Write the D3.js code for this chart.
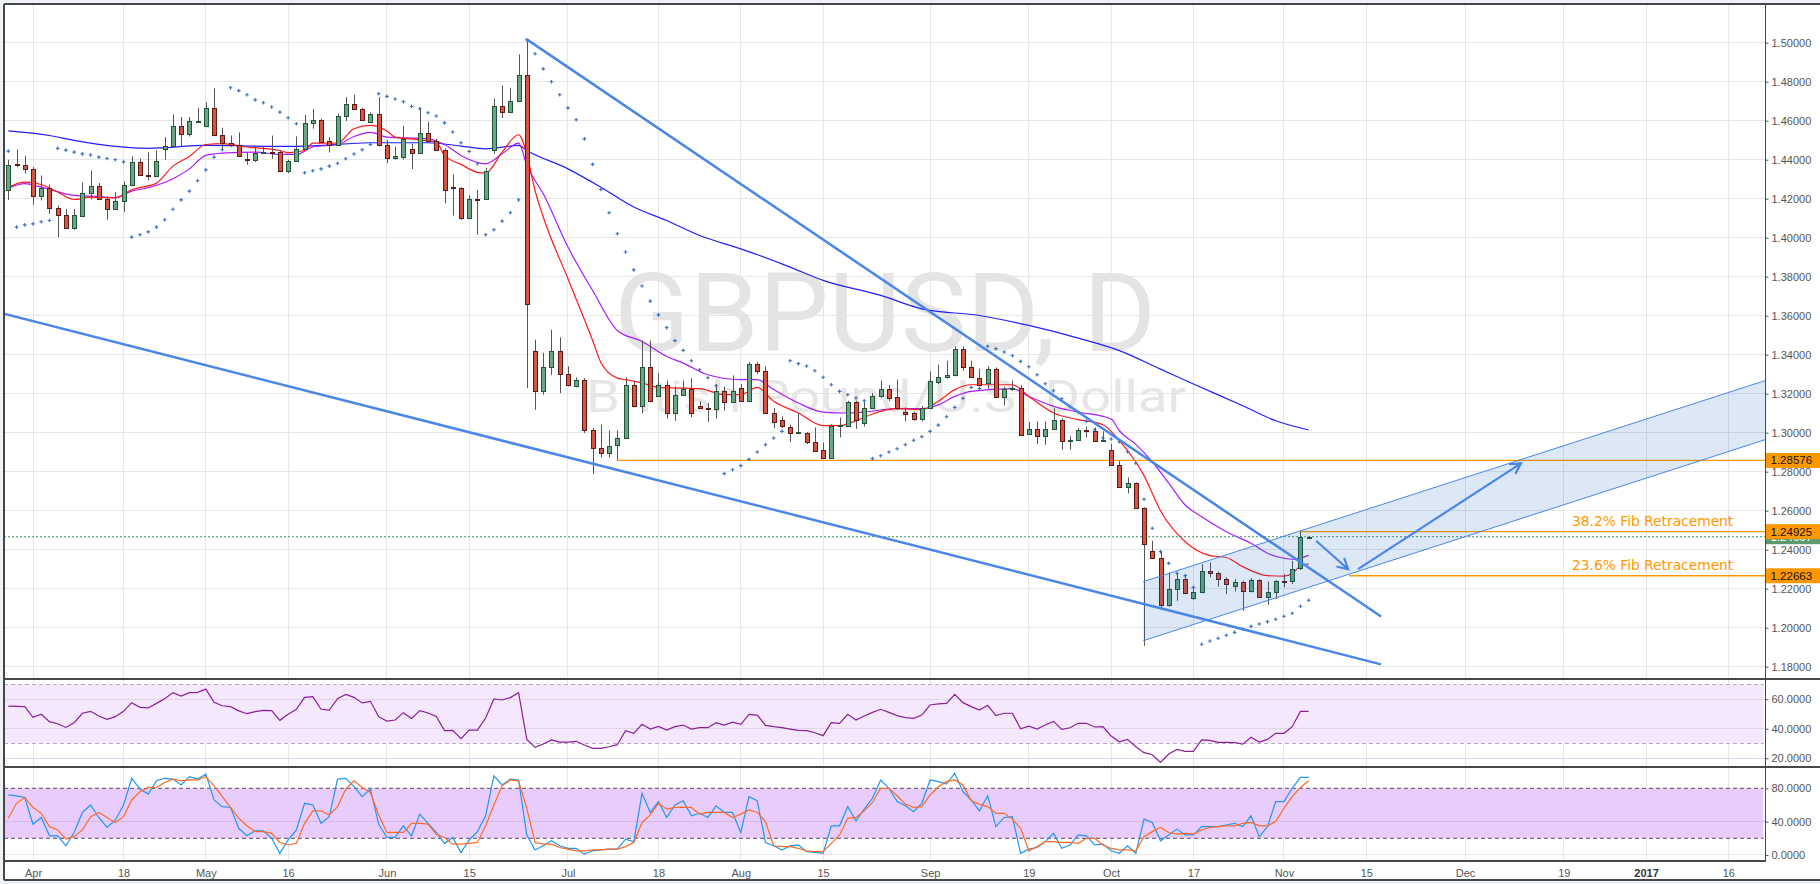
<!DOCTYPE html>
<html><head><meta charset="utf-8">
<script src="https://cdn.jsdelivr.net/npm/d3@7"></script>
<style>html,body{margin:0;padding:0;background:#eef1f6;}svg{display:block;}</style>
</head><body>
<svg id="c" width="1820" height="884"></svg>
<script>
// ---------- DATA (GBPUSD daily, bar n=1 is 29 Mar 2016, weekdays) ----------
const opens = [1.4246,1.4376,1.4374,1.4353,1.4215,1.4256,1.4153,1.4117,1.4051,1.4112,
1.4230,1.4266,1.4200,1.4148,1.4189,1.4271,1.4389,1.4324,1.4318,1.4456,
1.4470,1.4574,1.4533,1.4595,1.4574,1.4666,1.4528,1.4487,1.4477,1.4405,
1.4400,1.4436,1.4442,1.4439,1.4343,1.4394,1.4456,1.4589,1.4605,1.4497,
1.4477,1.4625,1.4687,1.4661,1.4595,1.4636,1.4477,1.4410,1.4415,1.4456,
1.4434,1.4538,1.4497,1.4451,1.4261,1.4256,1.4100,1.4200,1.4198,1.4449,
1.4675,1.4646,1.4702,1.4836,1.3417,1.3215,1.3335,1.3421,1.3302,1.3237,
1.3272,1.3015,1.2921,1.2896,1.2937,1.2973,1.3243,1.3135,1.3335,1.3190,
1.3246,1.3101,1.3195,1.3226,1.3138,1.3128,1.3123,1.3215,1.3155,1.3229,
1.3164,1.3350,1.3318,1.3101,1.3067,1.3029,1.2996,1.3000,1.2950,1.2913,
1.2870,1.3036,1.3036,1.3155,1.3049,1.3126,1.3190,1.3226,1.3181,1.3104,
1.3101,1.3072,1.3126,1.3260,1.3284,1.3294,1.3431,1.3335,1.3280,1.3255,
1.3328,1.3181,1.3226,1.3229,1.2995,1.3020,1.2981,1.3020,1.3067,1.2955,
1.2964,1.3015,1.3010,1.2961,1.2911,1.2834,1.2719,1.2740,1.2613,1.2395,
1.2357,1.2117,1.2198,1.2249,1.2152,1.2181,1.2292,1.2278,1.2249,1.2212,
1.2232,1.2186,1.2244,1.2155,1.2181,1.2240,1.2237,1.2305,1.2466];
const highs = [1.4400,1.4453,1.4420,1.4362,1.4319,1.4273,1.4165,1.4148,1.4148,1.4283,
1.4345,1.4280,1.4208,1.4234,1.4288,1.4417,1.4405,1.4437,1.4447,1.4516,
1.4632,1.4619,1.4619,1.4666,1.4694,1.4766,1.4564,1.4524,1.4540,1.4439,
1.4465,1.4470,1.4524,1.4447,1.4400,1.4519,1.4630,1.4660,1.4610,1.4516,
1.4636,1.4721,1.4733,1.4666,1.4642,1.4721,1.4502,1.4468,1.4574,1.4482,
1.4666,1.4595,1.4507,1.4458,1.4324,1.4259,1.4217,1.4246,1.4357,1.4714,
1.4781,1.4769,1.4940,1.5017,1.3477,1.3409,1.3528,1.3489,1.3340,1.3284,
1.3280,1.3024,1.3041,1.3012,1.3012,1.3285,1.3263,1.3472,1.3472,1.3306,
1.3267,1.3237,1.3267,1.3280,1.3161,1.3152,1.3250,1.3237,1.3294,1.3250,
1.3362,1.3362,1.3340,1.3126,1.3084,1.3041,1.3101,1.3003,1.3027,1.2950,
1.3044,1.3078,1.3164,1.3164,1.3161,1.3203,1.3267,1.3246,1.3272,1.3130,
1.3106,1.3138,1.3314,1.3349,1.3369,1.3443,1.3443,1.3369,1.3328,1.3340,
1.3335,1.3237,1.3267,1.3243,1.3055,1.3058,1.3058,1.3126,1.3072,1.2981,
1.3024,1.3032,1.3027,1.3007,1.2942,1.2856,1.2771,1.2745,1.2617,1.2446,
1.2391,1.2283,1.2278,1.2266,1.2210,1.2326,1.2335,1.2288,1.2258,1.2249,
1.2241,1.2254,1.2249,1.2237,1.2244,1.2275,1.2343,1.24925,1.2470];
const lows = [1.4194,1.4362,1.4328,1.4169,1.4191,1.4123,1.4003,1.4045,1.4040,1.4106,
1.4196,1.4194,1.4092,1.4143,1.4131,1.4268,1.4319,1.4294,1.4314,1.4400,
1.4468,1.4470,1.4519,1.4593,1.4571,1.4526,1.4456,1.4465,1.4417,1.4374,
1.4389,1.4430,1.4405,1.4336,1.4331,1.4391,1.4451,1.4559,1.4487,1.4437,
1.4471,1.4598,1.4660,1.4603,1.4591,1.4468,1.4382,1.4400,1.4400,1.4352,
1.4430,1.4494,1.4444,1.4177,1.4114,1.4092,1.4095,1.4015,1.4194,1.4430,
1.4615,1.4639,1.4697,1.3229,1.3118,1.3195,1.3297,1.3203,1.3237,1.3232,
1.2998,1.2788,1.2873,1.2873,1.28576,1.2969,1.3130,1.3101,1.3157,1.3186,
1.3072,1.3061,1.3191,1.3079,1.3123,1.3055,1.3072,1.3113,1.3152,1.3161,
1.3161,1.3301,1.3096,1.3024,1.3024,1.2952,1.2993,1.2942,1.2904,1.2867,
1.2867,1.2976,1.3032,1.3020,1.3032,1.3123,1.3178,1.3161,1.3118,1.3058,
1.3061,1.3058,1.3123,1.3250,1.3277,1.3289,1.3318,1.3280,1.3237,1.3226,
1.3178,1.3140,1.3215,1.2986,1.2993,1.2942,1.2938,1.3015,1.2913,1.2913,
1.2959,1.2976,1.2955,1.2955,1.2831,1.2716,1.2689,1.2608,1.1907,1.2352,
1.2095,1.2107,1.2138,1.2172,1.2143,1.2177,1.2258,1.2210,1.2172,1.2186,
1.2087,1.2181,1.2152,1.2117,1.2147,1.2207,1.2224,1.2295,1.2463];
const closes = [1.4374,1.4372,1.4353,1.4215,1.4256,1.4153,1.4117,1.4051,1.4117,1.4230,
1.4266,1.4200,1.4148,1.4189,1.4271,1.4389,1.4323,1.4318,1.4394,1.4471,
1.4574,1.4533,1.4596,1.4601,1.4666,1.4528,1.4487,1.4477,1.4420,1.4400,
1.4436,1.4442,1.4439,1.4343,1.4394,1.4456,1.4589,1.4605,1.4490,1.4477,
1.4625,1.4687,1.4661,1.4605,1.4636,1.4477,1.4410,1.4417,1.4507,1.4434,
1.4538,1.4497,1.4451,1.4246,1.4254,1.4100,1.4200,1.4198,1.4343,1.4675,
1.4646,1.4702,1.4836,1.3658,1.3215,1.3335,1.3421,1.3302,1.3243,1.3272,
1.3015,1.2921,1.2896,1.2933,1.2973,1.3243,1.3135,1.3335,1.3164,1.3246,
1.3101,1.3195,1.3226,1.3101,1.3126,1.3123,1.3215,1.3155,1.3215,1.3164,
1.3350,1.3318,1.3101,1.3056,1.3032,1.2996,1.3003,1.2950,1.2908,1.2870,
1.3036,1.3040,1.3155,1.3067,1.3126,1.3190,1.3226,1.3178,1.3126,1.3097,
1.3070,1.3126,1.3263,1.3284,1.3294,1.3431,1.3335,1.3284,1.3246,1.3328,
1.3181,1.3226,1.3229,1.2990,1.3020,1.2981,1.3020,1.3067,1.2955,1.2964,
1.3015,1.3010,1.2959,1.2964,1.2834,1.2719,1.2740,1.2613,1.2429,1.2357,
1.2117,1.2198,1.2249,1.2176,1.2181,1.2292,1.2278,1.2249,1.2224,1.2236,
1.2186,1.2244,1.2155,1.2184,1.2241,1.2237,1.2300,1.2467,1.2467];
const sar = [1.4444,1.4054,1.4066,1.4071,1.4082,1.4088,1.4458,1.4449,1.4439,1.4430,
1.4424,1.4413,1.4406,1.4400,1.4389,1.4003,1.4015,1.4030,1.4054,1.4092,
1.4146,1.4194,1.4239,1.4292,1.4348,1.4413,1.4451,1.4769,1.4754,1.4733,
1.4707,1.4692,1.4670,1.4644,1.4615,1.4584,1.4333,1.4343,1.4353,1.4367,
1.4382,1.4405,1.4429,1.4451,1.4478,1.4738,1.4725,1.4711,1.4697,1.4673,
1.4661,1.4641,1.4624,1.4589,1.4542,1.4487,1.4442,1.4379,1.4015,1.4041,
1.4085,1.4128,1.4194,1.5015,1.4943,1.4866,1.4800,1.4733,1.4666,1.4605,
1.4507,1.4376,1.4247,1.4128,1.4020,1.3927,1.3835,1.3752,1.3675,1.3604,
1.3539,1.3472,1.3422,1.3369,1.3323,1.3282,1.3241,1.2790,1.2810,1.2831,
1.2863,1.2901,1.2938,1.2973,1.3007,1.3369,1.3354,1.3342,1.3318,1.3284,
1.3246,1.3212,1.3195,1.3178,1.3164,1.2867,1.2882,1.2901,1.2918,1.2938,
1.2961,1.2979,1.3007,1.3039,1.3082,1.3130,1.3176,1.3232,1.3226,1.3443,
1.3431,1.3414,1.3395,1.3366,1.3338,1.3297,1.3251,1.3215,1.3174,1.3133,
1.3104,1.3058,1.3015,1.2973,1.2968,1.2954,1.2903,1.2843,1.2659,1.2510,
1.2390,1.2330,1.2279,1.2267,1.2207,1.1915,1.1932,1.1946,1.1961,1.1976,
1.1992,1.2007,1.2019,1.2031,1.2043,1.2059,1.2074,1.2110,1.2141];
// moving averages: [bar, price]
const maFast = [[1,1.4259],[3,1.4285],[5,1.4273],[7,1.4234],[9,1.4196],[11,1.4208],[14,1.4205],[16,1.4246],[19,1.4280],[21,1.4367],[23,1.4417],[25,1.4478],[27,1.4482],[30,1.4465],[34,1.4447],[35,1.4436],[37,1.4447],[38,1.4485],[41,1.4485],[43,1.4559],[45,1.4576],[47,1.4547],[48,1.4516],[51,1.4502],[53,1.4490],[54,1.4422],[56,1.4376],[58,1.4335],[59,1.4331],[61,1.4439],[63,1.4528],[64,1.4430],[65,1.4242],[66,1.4106],[69,1.3789],[72,1.3473],[73,1.3360],[75,1.3280],[76,1.3272],[78,1.3255],[80,1.3232],[85,1.3226],[88,1.3195],[90,1.3195],[92,1.3232],[94,1.3161],[97,1.3101],[100,1.3036],[102,1.3036],[104,1.3061],[106,1.3096],[109,1.3123],[112,1.3118],[114,1.3161],[116,1.3221],[118,1.3246],[123,1.3246],[125,1.3186],[128,1.3101],[131,1.3067],[134,1.3041],[136,1.2959],[139,1.2780],[141,1.2600],[144,1.2441],[147,1.2370],[149,1.2360],[151,1.2313],[154,1.2267],[156,1.2265],[157,1.2278],[158,1.2316],[159,1.2327]];
const maMid = [[1,1.4254],[3,1.4277],[5,1.4259],[9,1.4217],[12,1.4211],[14,1.4205],[16,1.4239],[18,1.4256],[21,1.4302],[23,1.4353],[25,1.4422],[27,1.4434],[31,1.4439],[34,1.4427],[36,1.4427],[38,1.4465],[41,1.4478],[43,1.4519],[45,1.4540],[47,1.4516],[52,1.4507],[54,1.4478],[56,1.4422],[59,1.4379],[61,1.4430],[63,1.4485],[64,1.4371],[66,1.4225],[69,1.3952],[72,1.3729],[75,1.3524],[78,1.3468],[81,1.3391],[83,1.3357],[86,1.3297],[90,1.3272],[92,1.3272],[94,1.3221],[97,1.3152],[100,1.3106],[103,1.3101],[105,1.3106],[109,1.3123],[112,1.3123],[114,1.3143],[116,1.3186],[118,1.3212],[123,1.3226],[125,1.3186],[128,1.3135],[131,1.3106],[135,1.3070],[136,1.3010],[138,1.2940],[140,1.2851],[142,1.2741],[144,1.2629],[146,1.2569],[149,1.2492],[152,1.2433],[154,1.2382],[156,1.2356],[157,1.2351],[159,1.2371]];
const maSlow = [[1,1.4548],[6,1.4524],[9,1.4499],[14,1.4468],[18,1.4458],[25,1.4473],[34,1.4468],[38,1.4471],[45,1.4487],[52,1.4487],[56,1.4470],[59,1.4456],[63,1.4473],[64,1.4447],[69,1.4353],[73,1.4259],[77,1.4157],[81,1.4088],[85,1.4011],[90,1.3943],[96,1.3849],[100,1.3781],[107,1.3704],[112,1.3635],[119,1.3601],[125,1.3550],[131,1.3485],[136,1.3421],[141,1.3326],[145,1.3250],[151,1.3138],[155,1.3061],[159,1.3014]];
const rsi = [55.4,55.2,55.0,47.7,49.8,44.8,43.4,40.9,44.1,50.5,
51.8,48.6,46.4,48.2,51.8,57.7,54.5,54.1,57.2,60.4,
64.5,62.2,64.5,64.7,66.9,57.9,55.6,55.0,52.1,50.2,
51.6,52.5,52.3,45.7,49.8,53.2,61.3,61.8,53.2,52.7,
60.4,63.3,61.3,57.5,58.6,48.2,45.2,45.9,50.9,47.0,
52.3,50.7,48.4,38.7,38.9,33.3,39.1,39.1,47.3,60.2,
59.5,61.1,64.5,32.8,27.4,29.7,32.4,31.0,31.0,31.5,
29.0,26.7,26.7,27.8,29.2,38.7,36.9,43.0,39.8,41.6,
39.1,41.4,42.5,39.8,40.7,40.7,44.1,42.5,44.5,43.0,
49.8,49.3,42.3,41.4,40.7,39.8,38.9,38.7,37.3,35.3,
44.1,43.6,49.8,45.9,48.6,51.1,53.2,51.1,48.9,47.5,
47.0,49.3,56.1,56.8,57.2,63.3,57.7,55.0,52.7,55.9,
48.9,50.5,50.5,40.0,41.8,39.8,42.5,45.0,39.6,40.7,
43.7,43.7,41.2,41.4,35.1,31.2,32.8,27.8,23.8,22.4,
17.2,22.9,26.0,24.7,24.7,32.4,32.1,30.8,30.8,30.6,
29.6,34.2,31.0,32.8,36.9,36.9,41.4,51.8,51.8];
const stochK = [72,71,69,37,45,23,23,11,27,51, 60,45,33,42,60,92,79,73,89,92,
91,84,94,91,97,66,58,57,32,23, 29,29,20,2,18,30,62,60,38,46,
91,92,82,70,79,37,21,21,35,23, 49,38,27,14,21,3,18,28,47,95,
84,91,90,24,6,11,17,11,8,8, 1,5,6,7,7,19,16,74,51,64,
45,60,65,47,50,45,59,51,51,27, 70,65,15,11,6,11,12,4,3,2,
35,35,58,41,55,68,90,80,64,59, 52,62,90,88,85,98,76,66,53,71,
34,45,46,2,7,9,16,26,8,12, 24,23,12,13,5,2,11,2,43,39,
17,24,31,24,24,34,34,34,36,38, 34,47,22,34,64,64,80,93,93];
const stochD = [44,62,69,57,50,34,30,19,22,30, 46,51,45,39,46,66,76,81,81,87,
91,89,90,90,94,83,70,57,44,35, 28,28,26,15,12,14,38,53,53,48,
58,79,89,81,75,48,27,27,27,38, 38,37,25,21,13,13,14,15,35,60,
83,90,89,56,15,13,13,9,7,5, 5,6,6,7,7,10,15,39,48,62,
55,57,57,57,49,51,51,51,45,49, 54,51,40,11,10,10,8,5,4,4,
14,24,44,45,53,63,80,80,71,61, 57,58,72,82,88,90,84,65,61,58,
50,50,43,32,5,10,16,16,15,15, 14,20,20,12,8,6,6,5,22,28,
33,27,25,26,25,30,33,34,35,35, 38,39,35,35,40,56,70,81,89];
const tickBars = [4,15,25,35,47,57,69,80,90,100,113,125,135,145,156,166,178,190,200,210];
const tickLabels = ["Apr","18","May","16","Jun","15","Jul","18","Aug","15","Sep","19","Oct","17","Nov","15","Dec","19","2017","16"];
const priceTicks = [1.18,1.20,1.22,1.24,1.26,1.28,1.30,1.32,1.34,1.36,1.38,1.40,1.42,1.44,1.46,1.48,1.50];
const rsiTicks = [20,40,60];
const stochTicks = [0,40,80];
// drawings
const trendUpper = [[64,1.5017],[167.8,1.2057]];
const trendLower = [[0,1.3615],[167.8,1.1812]];
const channelBars = [138.9,214.6];
const channelTop = [1.2236,1.3269];
const channelBottom = [1.1933,1.2966];
const arrowDown = [[159.9,1.2446],[163.8,1.2300]];
const arrowUp = [[165.0,1.2300],[184.8,1.2843]];
const fibLevels = [1.28576,1.24925,1.22663];
const fibStartBars = [75,158,163.9];
const fibTexts = ["38.2% Fib Retracement","23.6% Fib Retracement"];
const fibTextLevels = [1.24925,1.22663];
const lastPrice = 1.24667;

// ---------- LAYOUT ----------
const W=1820,H=884,L=4,R=1765.5,mainTop=4,mainBot=679,rsiBot=767,stBot=861,axBot=880;
const x = d3.scaleLinear().domain([4,210]).range([33,1728.38]);
const y = d3.scaleLinear().domain([1.18,1.50]).range([666.7,42.7]);
const yR = d3.scaleLinear().domain([30,70]).range([743.5,684.5]);
const yS = d3.scaleLinear().domain([20,80]).range([838.3,788.3]);
const FONT = "'Liberation Sans', Arial, sans-serif";

const svg = d3.select('#c');
const defs = svg.append('defs');
function clip(id,x0,y0,w,h){defs.append('clipPath').attr('id',id).append('rect').attr('x',x0).attr('y',y0).attr('width',w).attr('height',h);}
clip('cm',L,mainTop,R-L,mainBot-mainTop);
clip('cr',L,mainBot,R-L,rsiBot-mainBot);
clip('cs',L,rsiBot,R-L,stBot-rsiBot);

svg.append('rect').attr('width',W).attr('height',H).attr('fill','#eef1f6');
svg.append('rect').attr('x',L).attr('y',mainTop).attr('width',W-L).attr('height',axBot-mainTop).attr('fill','#fff');

// grid
const grid = svg.append('g').attr('stroke','#e6e6e6').attr('stroke-width',1).attr('shape-rendering','crispEdges');
tickBars.forEach(n=>grid.append('line').attr('x1',x(n)).attr('x2',x(n)).attr('y1',mainTop).attr('y2',stBot));
priceTicks.forEach(p=>grid.append('line').attr('x1',L).attr('x2',R).attr('y1',y(p)).attr('y2',y(p)));

// bands
const rb = svg.append('g').attr('clip-path','url(#cr)');
rb.append('rect').attr('x',L).attr('width',R-L-2).attr('y',yR(70)).attr('height',yR(30)-yR(70)).attr('fill','#f5e8fd');
rsiTicks.forEach(v=>rb.append('line').attr('x1',L).attr('x2',R).attr('y1',yR(v)).attr('y2',yR(v)).attr('stroke','#e2d5ea').attr('shape-rendering','crispEdges'));
[70,30].forEach(v=>rb.append('line').attr('x1',L).attr('x2',R-2).attr('y1',yR(v)).attr('y2',yR(v)).attr('stroke','#b7a7c2').attr('stroke-dasharray','4,3'));
const sb = svg.append('g').attr('clip-path','url(#cs)');
sb.append('rect').attr('x',L).attr('width',R-L-2).attr('y',yS(80)).attr('height',yS(20)-yS(80)).attr('fill','#e8cdfc');
[0,40].forEach(v=>sb.append('line').attr('x1',L).attr('x2',R).attr('y1',yS(v)).attr('y2',yS(v)).attr('stroke',v===0?'#e6e6e6':'#d5b8ea').attr('shape-rendering','crispEdges'));
[80,20].forEach(v=>sb.append('line').attr('x1',L).attr('x2',R-2).attr('y1',yS(v)).attr('y2',yS(v)).attr('stroke','#5d4a6b').attr('stroke-dasharray','4,3'));

// main panel
const main = svg.append('g').attr('clip-path','url(#cm)');
main.append('text').attr('x',885).attr('y',351).attr('text-anchor','middle').attr('font-family','Roboto, sans-serif').attr('font-size',110)
  .attr('fill','#e4e4e4').attr('textLength',542).attr('lengthAdjust','spacingAndGlyphs').text('GBPUSD, D');
main.append('text').attr('x',886).attr('y',411.5).attr('text-anchor','middle').attr('font-family','Roboto, sans-serif').attr('font-size',45)
  .attr('fill','#e6e6e6').attr('textLength',600).attr('lengthAdjust','spacingAndGlyphs').text('British Pound/U.S. Dollar');

const ln = d3.line().x(d=>x(d[0])).y(d=>y(d[1]));
const lnC = d3.line().x(d=>x(d[0])).y(d=>y(d[1])).curve(d3.curveMonotoneX);

// moving averages
main.append('path').attr('d',lnC(maSlow)).attr('fill','none').attr('stroke','#1f1fff').attr('stroke-width',1.2);
main.append('path').attr('d',lnC(maMid)).attr('fill','none').attr('stroke','#a81cff').attr('stroke-width',1.2);
main.append('path').attr('d',lnC(maFast)).attr('fill','none').attr('stroke','#ff1a1a').attr('stroke-width',1.2);

// fib lines
fibLevels.forEach((p,i)=>main.append('line').attr('x1',x(fibStartBars[i])).attr('x2',R).attr('y1',y(p)).attr('y2',y(p))
  .attr('stroke','#ff9800').attr('stroke-width',1.3));
// last price dotted line
main.append('line').attr('x1',L).attr('x2',R).attr('y1',y(lastPrice)).attr('y2',y(lastPrice)).attr('stroke','#3f9a5e').attr('stroke-dasharray','2,2');

// candles
const cg = main.append('g');
opens.forEach((o,k)=>{
  const n=k+1, c=closes[k], h=highs[k], l=lows[k];
  const cx=Math.round(x(n));
  const up=c>=o;
  cg.append('line').attr('x1',cx+0.5).attr('x2',cx+0.5).attr('y1',y(h)).attr('y2',y(l)).attr('stroke','#555').attr('stroke-width',1);
  const yt=Math.round(y(Math.max(o,c))), yb=Math.round(y(Math.min(o,c)));
  cg.append('rect').attr('x',cx-1.5).attr('width',4).attr('y',yt+0.5).attr('height',Math.max(1,yb-yt))
    .attr('fill',up?'#6ba583':'#d75442').attr('stroke',up?'#225437':'#5b1a13').attr('stroke-width',1);
});
// parabolic SAR
const sg = main.append('g').attr('stroke','#3a6fc0').attr('stroke-width',1.1);
sar.forEach((p,k)=>{const cx=x(k+1), cy=y(p);
  sg.append('path').attr('d',`M${cx-1.8},${cy}H${cx+1.8}M${cx},${cy-1.8}V${cy+1.8}`);});

// channel
const chPoly = [[channelBars[0],channelTop[0]],[channelBars[1],channelTop[1]],[channelBars[1],channelBottom[1]],[channelBars[0],channelBottom[0]]];
main.append('path').attr('d',ln(chPoly)+'Z').attr('fill','#1565c0').attr('fill-opacity',0.15);
main.append('path').attr('d',ln([[channelBars[0],channelTop[0]],[channelBars[1],channelTop[1]]])).attr('stroke','#4a86e8').attr('stroke-width',1).attr('fill','none');
main.append('path').attr('d',ln([[channelBars[0],channelBottom[0]],[channelBars[1],channelBottom[1]]])).attr('stroke','#4a86e8').attr('stroke-width',1).attr('fill','none');
// trendlines
[trendUpper,trendLower].forEach(t=>main.append('path').attr('d',ln(t)).attr('stroke','#4a86e8').attr('stroke-width',2.5).attr('fill','none'));
// arrows
function arrow(a){
  const x0=x(a[0][0]),y0=y(a[0][1]),x1=x(a[1][0]),y1=y(a[1][1]);
  const ang=Math.atan2(y1-y0,x1-x0), len=12, sp=0.5;
  const ax=x1-len*Math.cos(ang-sp), ay=y1-len*Math.sin(ang-sp), bx=x1-len*Math.cos(ang+sp), by=y1-len*Math.sin(ang+sp);
  main.append('path').attr('d',`M${x0},${y0}L${x1},${y1}M${ax},${ay}L${x1},${y1}L${bx},${by}`)
    .attr('stroke','#4a86e8').attr('stroke-width',2.2).attr('fill','none').attr('stroke-linejoin','miter');
}
arrow(arrowDown); arrow(arrowUp);
// fib text
fibTexts.forEach((t,i)=>main.append('text').attr('x',1572).attr('y',y(fibTextLevels[i])-5.5).attr('font-family','DejaVu Sans, sans-serif')
  .attr('font-size',13.8).attr('fill','#ff9800').text(t));

// RSI
svg.append('g').attr('clip-path','url(#cr)').append('path').attr('d',d3.line().x((d,i)=>x(i+1)).y(d=>yR(d))(rsi))
  .attr('fill','none').attr('stroke','#8a1f99').attr('stroke-width',1.2);
// Stochastic
const sgc = svg.append('g').attr('clip-path','url(#cs)');
sgc.append('path').attr('d',d3.line().x((d,i)=>x(i+1)).y(d=>yS(d))(stochK)).attr('fill','none').attr('stroke','#2196f3').attr('stroke-width',1.2);
sgc.append('path').attr('d',d3.line().x((d,i)=>x(i+1)).y(d=>yS(d))(stochD)).attr('fill','none').attr('stroke','#ff6a22').attr('stroke-width',1.2);

// axes
function styleAxis(g){g.select('.domain').remove();g.selectAll('text').attr('font-family',FONT).attr('font-size',11).attr('fill','#555');g.selectAll('.tick line').attr('stroke','#555');}
svg.append('g').attr('transform',`translate(${R},0)`).call(d3.axisRight(y).tickValues(priceTicks).tickSize(3).tickPadding(3).tickFormat(d=>d.toFixed(5))).call(styleAxis);
svg.append('g').attr('transform',`translate(${R},0)`).call(d3.axisRight(yR).tickValues(rsiTicks).tickSize(3).tickPadding(3).tickFormat(d=>d.toFixed(4))).call(styleAxis);
svg.append('g').attr('transform',`translate(${R},0)`).call(d3.axisRight(yS).tickValues(stochTicks).tickSize(3).tickPadding(3).tickFormat(d=>d.toFixed(4))).call(styleAxis);
const xa = svg.append('g').attr('transform',`translate(0,${stBot})`).call(d3.axisBottom(x).tickValues(tickBars).tickSize(0).tickPadding(8).tickFormat((d,i)=>tickLabels[i])).call(styleAxis);
xa.selectAll('text').filter(d=>d===200).attr('font-weight','bold').attr('fill','#333');

// price tags
function tag(p,fill,txt,tc){
  const g=svg.append('g');
  g.append('rect').attr('x',R+0.5).attr('y',y(p)-7.5).attr('width',W-R).attr('height',15).attr('fill',fill);
  g.append('text').attr('x',R+5).attr('y',y(p)+4).attr('font-family',FONT).attr('font-size',11.5).attr('fill',tc).text(txt);
}
tag(lastPrice,'#5b9a6e',lastPrice.toFixed(5),'#fff');
fibLevels.forEach(p=>tag(p,'#ff9800',p.toFixed(5),'#111'));

// borders
const bd = svg.append('g').attr('stroke','#474747').attr('stroke-width',1.4).attr('shape-rendering','crispEdges');
bd.append('line').attr('x1',L).attr('x2',W).attr('y1',mainTop).attr('y2',mainTop);
bd.append('line').attr('x1',L).attr('x2',L).attr('y1',mainTop).attr('y2',axBot);
bd.append('line').attr('x1',R).attr('x2',R).attr('y1',mainTop).attr('y2',stBot);
bd.append('line').attr('x1',L).attr('x2',W).attr('y1',mainBot).attr('y2',mainBot);
bd.append('line').attr('x1',L).attr('x2',W).attr('y1',rsiBot).attr('y2',rsiBot);
bd.append('line').attr('x1',L).attr('x2',R).attr('y1',stBot).attr('y2',stBot);
bd.append('line').attr('x1',L).attr('x2',W).attr('y1',axBot).attr('y2',axBot);
</script>
</body></html>
